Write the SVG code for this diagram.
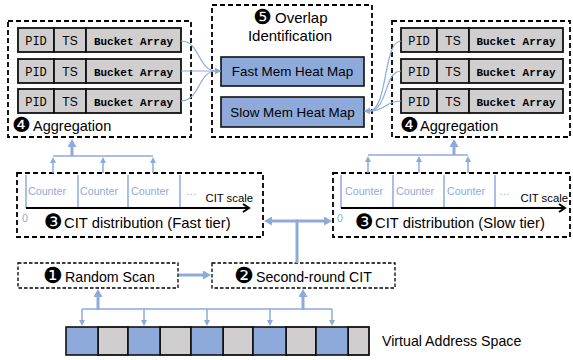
<svg xmlns="http://www.w3.org/2000/svg" width="573" height="360" viewBox="0 0 573 360">
<style>
.t{font-family:"Liberation Sans",Arial,sans-serif;fill:#000}
.c{font-family:"DejaVu Sans",sans-serif;fill:#000}
.mono{font-family:"Liberation Mono","Courier New",monospace;fill:#000}
.dash{fill:#fff;stroke:#000;stroke-width:1.8;stroke-dasharray:5 3}
.dsm{fill:#fff;stroke:#000;stroke-width:1.3;stroke-dasharray:3.5 2}
.cell{fill:#d0cece;stroke:#111;stroke-width:1.8}
.heat{fill:#8eaadb;stroke:#111;stroke-width:1.6}
.ln{fill:none;stroke:#8eaadb;stroke-width:1.5}
.lt{fill:none;stroke:#8eaadb;stroke-width:1.2}
.lb{fill:none;stroke:#8eaadb;stroke-width:3}
.blue{font-family:"Liberation Sans",Arial,sans-serif;fill:#8eaadb}
</style>
<defs>
<marker id="a" markerUnits="userSpaceOnUse" markerWidth="6" markerHeight="6" refX="1" refY="3" orient="auto"><path d="M0,0 L6,3 L0,6 z" fill="#8eaadb"/></marker>
<marker id="b" markerUnits="userSpaceOnUse" markerWidth="8" markerHeight="9" refX="1" refY="4.5" orient="auto"><path d="M0,0 L8,4.5 L0,9 z" fill="#8eaadb"/></marker>
</defs>

<g id="agg-fast">
<rect class="dash" x="8" y="21" width="183" height="116"/>
<g>
<rect class="cell" x="18" y="28" width="36" height="24"/><rect class="cell" x="54" y="28" width="32" height="24"/><rect class="cell" x="86" y="28" width="95" height="24"/>
<text class="mono" x="36" y="45" font-size="12" text-anchor="middle">PID</text><text class="t" x="70" y="45" font-size="12" text-anchor="middle">TS</text><text class="mono" x="133.5" y="44.5" font-size="11" font-weight="bold" text-anchor="middle">Bucket Array</text>
</g>
<g>
<rect class="cell" x="18" y="59" width="36" height="24"/><rect class="cell" x="54" y="59" width="32" height="24"/><rect class="cell" x="86" y="59" width="95" height="24"/>
<text class="mono" x="36" y="76" font-size="12" text-anchor="middle">PID</text><text class="t" x="70" y="76" font-size="12" text-anchor="middle">TS</text><text class="mono" x="133.5" y="75.5" font-size="11" font-weight="bold" text-anchor="middle">Bucket Array</text>
</g>
<g>
<rect class="cell" x="18" y="89" width="36" height="24"/><rect class="cell" x="54" y="89" width="32" height="24"/><rect class="cell" x="86" y="89" width="95" height="24"/>
<text class="mono" x="36" y="106" font-size="12" text-anchor="middle">PID</text><text class="t" x="70" y="106" font-size="12" text-anchor="middle">TS</text><text class="mono" x="133.5" y="105.5" font-size="11" font-weight="bold" text-anchor="middle">Bucket Array</text>
</g>
<text x="12" y="132"><tspan class="c" font-size="21">❹</tspan><tspan class="t" x="33" y="131" font-size="14.5">Aggregation</tspan></text>
</g>

<g id="overlap">
<rect class="dash" x="212" y="5" width="160" height="132"/>
<text x="253" y="24"><tspan class="c" font-size="21">❺</tspan><tspan class="t" x="275" y="23" font-size="15">Overlap</tspan></text>
<text class="t" x="290" y="41" font-size="15" text-anchor="middle">Identification</text>
<g id="fast-heat"><rect class="heat" x="221" y="57" width="143" height="29"/><text class="t" x="292.5" y="76" font-size="13.4" text-anchor="middle">Fast Mem Heat Map</text></g>
<g id="slow-heat"><rect class="heat" x="221" y="97" width="143" height="30"/><text class="t" x="292.5" y="117" font-size="13.4" text-anchor="middle">Slow Mem Heat Map</text></g>
</g>

<g id="agg-slow">
<rect class="dash" x="392" y="21" width="178" height="116"/>
<g>
<rect class="cell" x="401" y="28" width="36" height="24"/><rect class="cell" x="437" y="28" width="32" height="24"/><rect class="cell" x="469" y="28" width="94" height="24"/>
<text class="mono" x="419" y="45" font-size="12" text-anchor="middle">PID</text><text class="t" x="453" y="45" font-size="12" text-anchor="middle">TS</text><text class="mono" x="516" y="44.5" font-size="11" font-weight="bold" text-anchor="middle">Bucket Array</text>
</g>
<g>
<rect class="cell" x="401" y="59" width="36" height="24"/><rect class="cell" x="437" y="59" width="32" height="24"/><rect class="cell" x="469" y="59" width="94" height="24"/>
<text class="mono" x="419" y="76" font-size="12" text-anchor="middle">PID</text><text class="t" x="453" y="76" font-size="12" text-anchor="middle">TS</text><text class="mono" x="516" y="75.5" font-size="11" font-weight="bold" text-anchor="middle">Bucket Array</text>
</g>
<g>
<rect class="cell" x="401" y="89" width="36" height="24"/><rect class="cell" x="437" y="89" width="32" height="24"/><rect class="cell" x="469" y="89" width="94" height="24"/>
<text class="mono" x="419" y="106" font-size="12" text-anchor="middle">PID</text><text class="t" x="453" y="106" font-size="12" text-anchor="middle">TS</text><text class="mono" x="516" y="105.5" font-size="11" font-weight="bold" text-anchor="middle">Bucket Array</text>
</g>
<text x="400" y="132"><tspan class="c" font-size="21">❹</tspan><tspan class="t" x="420" y="131" font-size="14.5">Aggregation</tspan></text>
</g>

<g id="cit-fast">
<rect class="dash" x="17" y="173" width="246" height="64"/>
<path class="ln" d="M26,175 V208 M78,175 V208 M128,175 V208 M180,175 V208"/>
<text class="blue" font-size="10.7" y="195"><tspan x="28">Counter</tspan><tspan x="80">Counter</tspan><tspan x="131">Counter</tspan><tspan x="186">…</tspan></text>
<path d="M26,208 H248" stroke="#000" stroke-width="2" fill="none"/>
<path d="M243,204 L249,208 L243,212" stroke="#000" stroke-width="2" fill="none"/>
<text class="t" x="253" y="202" font-size="11.3" text-anchor="end">CIT scale</text>
<text class="blue" x="22" y="222" font-size="10.7">0</text>
<text x="44" y="229"><tspan class="c" font-size="21">❸</tspan><tspan class="t" x="64" y="228" font-size="14.8">CIT distribution (Fast tier)</tspan></text>
</g>

<g id="cit-slow">
<rect class="dash" x="333" y="173" width="237" height="64"/>
<path class="ln" d="M341,175 V208 M393,175 V208 M444,175 V208 M495,175 V208"/>
<text class="blue" font-size="10.7" y="195"><tspan x="345">Counter</tspan><tspan x="396">Counter</tspan><tspan x="447">Counter</tspan><tspan x="499">…</tspan></text>
<path d="M341,208 H564" stroke="#000" stroke-width="2" fill="none"/>
<path d="M559,204 L565,208 L559,212" stroke="#000" stroke-width="2" fill="none"/>
<text class="t" x="568" y="202" font-size="11.3" text-anchor="end">CIT scale</text>
<text class="blue" x="337" y="222" font-size="10.7">0</text>
<text x="355" y="229"><tspan class="c" font-size="21">❸</tspan><tspan class="t" x="375" y="228" font-size="14.8">CIT distribution (Slow tier)</tspan></text>
</g>

<g id="random-scan">
<rect class="dsm" x="18" y="263" width="160" height="25"/>
<text x="43" y="283"><tspan class="c" font-size="22">❶</tspan><tspan class="t" x="65" y="282" font-size="14.2">Random Scan</tspan></text>
</g>

<g id="second-round">
<rect class="dsm" x="212" y="263" width="183" height="25"/>
<text x="234" y="283"><tspan class="c" font-size="22">❷</tspan><tspan class="t" x="256" y="282" font-size="14.2">Second-round CIT</tspan></text>
</g>

<g id="memory">
<rect class="cell" x="98" y="327" width="30" height="28" stroke-width="1.2"/>
<rect class="cell" x="160" y="327" width="31" height="28" stroke-width="1.2"/>
<rect class="cell" x="223" y="327" width="30" height="28" stroke-width="1.2"/>
<rect class="cell" x="286" y="327" width="30" height="28" stroke-width="1.2"/>
<rect class="cell" x="348" y="327" width="21" height="28" stroke-width="1.2"/>
<rect class="heat" x="66" y="327" width="32" height="28" stroke-width="2"/>
<rect class="heat" x="128" y="327" width="32" height="28" stroke-width="2"/>
<rect class="heat" x="191" y="327" width="32" height="28" stroke-width="2"/>
<rect class="heat" x="253" y="327" width="33" height="28" stroke-width="2"/>
<rect class="heat" x="316" y="327" width="32" height="28" stroke-width="2"/>
<text class="t" x="382" y="346" font-size="14.2">Virtual Address Space</text>
</g>

<g id="connectors">
<path class="lt" d="M181,41 C200,41 198,71 216,71" marker-end="url(#a)"/>
<path class="lt" d="M181,71 H216" marker-end="url(#a)"/>
<path class="lt" d="M181,101 C200,101 198,71 216,71" marker-end="url(#a)"/>
<path class="lt" d="M401,41 C383,41 388,111 369,111" marker-end="url(#a)"/>
<path class="lt" d="M401,71 C384,71 388,111 369,111" marker-end="url(#a)"/>
<path class="lt" d="M401,101 C385,101 386,111 369,111" marker-end="url(#a)"/>

<path class="ln" d="M53,156 H153" stroke-width="2"/>
<path class="ln" d="M53,173 V162" marker-end="url(#a)"/>
<path class="ln" d="M103,173 V162" marker-end="url(#a)"/>
<path class="ln" d="M153,173 V162" marker-end="url(#a)"/>
<path class="lb" d="M72,156 V146" marker-end="url(#b)"/>

<path class="ln" d="M368,155 H468" stroke-width="2"/>
<path class="ln" d="M368,173 V161" marker-end="url(#a)"/>
<path class="ln" d="M419,173 V161" marker-end="url(#a)"/>
<path class="ln" d="M468,173 V161" marker-end="url(#a)"/>
<path class="lb" d="M454,155 V146" marker-end="url(#b)"/>

<path class="lb" d="M297,263 V221"/>
<path class="lb" d="M298.5,221 H271" marker-end="url(#b)"/>
<path class="lb" d="M295.5,221 H325" marker-end="url(#b)"/>

<path class="lb" d="M179,275 H204" stroke-width="2.5" marker-end="url(#b)"/>

<path class="ln" d="M82,309 H332" stroke-width="2"/>
<path class="ln" d="M82,309 V321" marker-end="url(#a)"/>
<path class="ln" d="M144,309 V321" marker-end="url(#a)"/>
<path class="ln" d="M207,309 V321" marker-end="url(#a)"/>
<path class="ln" d="M270,309 V321" marker-end="url(#a)"/>
<path class="ln" d="M332,309 V321" marker-end="url(#a)"/>
<path class="lb" d="M98,310 V296" marker-end="url(#b)"/>
<path class="lb" d="M303,310 V296" marker-end="url(#b)"/>
</g>
</svg>
